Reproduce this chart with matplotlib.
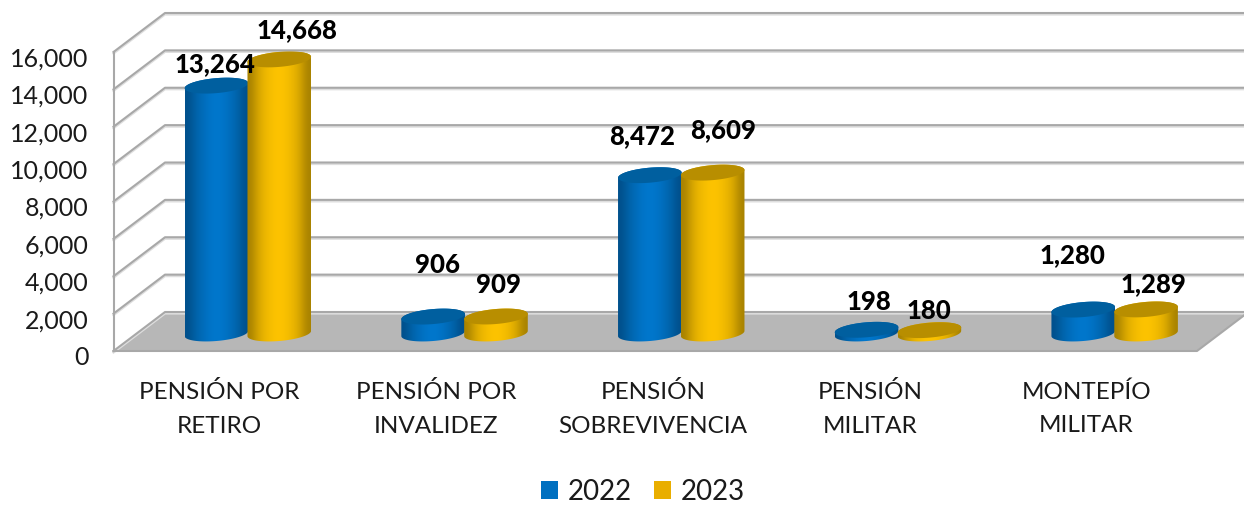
import numpy as np
import matplotlib
matplotlib.use("Agg")
import matplotlib.pyplot as plt
from matplotlib.patches import Polygon, Patch
from matplotlib.transforms import ScaledTranslation

categories = ["PENSIÓN POR\nRETIRO", "PENSIÓN POR\nINVALIDEZ", "PENSIÓN\nSOBREVIVENCIA", "PENSIÓN\nMILITAR", "MONTEPÍO\nMILITAR"]
values_2022 = [13264, 906, 8472, 198, 1280]
values_2023 = [14668, 909, 8609, 180, 1289]
yticks = [0, 2000, 4000, 6000, 8000, 10000, 12000, 14000, 16000]

plt.rcParams["font.family"] = ["Lato", "DejaVu Sans"]
W, H = 1244, 506
fig = plt.figure(figsize=(W / 100, H / 100), dpi=100, facecolor="white")
ax = fig.add_axes([113.5 / W, (H - 352) / H, 1083.5 / W, 299 / H])
ax.patch.set_visible(False)
for s in ax.spines.values():
    s.set_visible(False)

px_x = 1083.5 / 5
px_y = 299 / 16000
depth_x = 51.5 / px_x
depth_y = 39 / px_y
base = 17.5 / px_y
half_w = 31.8 / px_x
half_h = 7.5 / px_y
tilt = 2.6 / px_y
offset = 0.145
centre = 0.62

GRID = "#a8a8a8"
ax.add_patch(Polygon([[0, 0], [depth_x, depth_y], [5 + depth_x, depth_y], [5, 0]], closed=True,
                     facecolor="#b7b7b7", edgecolor="none", zorder=1, clip_on=False))
for v in yticks:
    ax.plot([0, depth_x, 5 + depth_x], [v, v + depth_y, v + depth_y], color="#dedede", lw=1.6, zorder=1.2,
            clip_on=False, transform=ax.transData + ScaledTranslation(0, -1.5 / 100, fig.dpi_scale_trans))
    ax.plot([0, depth_x, 5 + depth_x], [v, v + depth_y, v + depth_y], color=GRID, lw=1.5, zorder=1.5, clip_on=False)
ax.plot([0, 5, 5 + depth_x], [0, 0, depth_y], color=GRID, lw=1.5, zorder=1.6, clip_on=False)
ax.plot([0, 0], [0, 16000], color=GRID, lw=1.5, zorder=1.6, clip_on=False)


def ellipse_points(cx, cy, t):
    return np.column_stack([cx + half_w * np.cos(t), cy + half_h * np.sin(t) + tilt * np.cos(t)])


def cylinder(cx, value, stops, top_color, z):
    yb = base
    yt = base + value
    t_low = np.linspace(np.pi, 2 * np.pi, 60)
    t_up = np.linspace(0, np.pi, 60)
    body = Polygon(np.vstack([ellipse_points(cx, yb, t_low), ellipse_points(cx, yt, t_up)]), closed=True,
                   facecolor="none", edgecolor="none", zorder=z, clip_on=False)
    ax.add_patch(body)
    rgb = np.array([[matplotlib.colors.to_rgb(c) for c in stops]])
    im = ax.imshow(rgb, extent=[cx - half_w, cx + half_w, yb - 2 * half_h, yt + 2 * half_h], aspect="auto",
                   interpolation="bicubic", zorder=z)
    im.set_clip_path(body)
    t = np.linspace(0, 2 * np.pi, 120)
    ax.add_patch(Polygon(ellipse_points(cx, yt, t), closed=True, facecolor=top_color, edgecolor="none",
                         zorder=z + 0.1, clip_on=False))


blue_stops = ["#00508c", "#0062a8", "#006cba", "#0074c8", "#0078ce", "#0074c8", "#006cba", "#0062a8", "#00508c"]
gold_stops = ["#a88200", "#d4a400", "#ecb600", "#f8c000", "#ffc400", "#f8c000", "#ecb600", "#d4a400", "#a88200"]
label_offsets_22 = [(-1, 23), (4, 53), (-8, 40), (2, 29), (-11, 55)]
label_offsets_23 = [(18, 30), (3, 33), (10, 44), (0, 20), (7, 26)]

for i in range(5):
    cx1 = i + centre - offset
    cx2 = i + centre + offset
    cylinder(cx1, values_2022[i], blue_stops, "#005f9f", 3 + i)
    cylinder(cx2, values_2023[i], gold_stops, "#b88e00", 3.3 + i)
    for cx, val, off in ((cx1, values_2022[i], label_offsets_22[i]), (cx2, values_2023[i], label_offsets_23[i])):
        ax.annotate(f"{val:,}", xy=(cx, base + val), xytext=off, textcoords="offset pixels", ha="center",
                    va="center", fontsize=18.5, fontweight=900, color="black", zorder=20, annotation_clip=False)

ax.set_xlim(0, 5)
ax.set_ylim(0, 16000)
ax.set_xticks(np.arange(5) + 0.5 - 0.01)
ax.set_xticklabels(categories, fontsize=17.5, linespacing=1.74, color="#1a1a1a")
ax.set_yticks(yticks)
ax.set_yticklabels([f"{v:,}" for v in yticks], fontsize=18, color="#1a1a1a")
ax.tick_params(axis="both", length=0)
ax.tick_params(axis="x", pad=21)
ax.tick_params(axis="y", pad=18)
shift = ScaledTranslation(0, -4 / 100, fig.dpi_scale_trans)
for lab in ax.get_yticklabels():
    lab.set_transform(lab.get_transform() + shift)

handles = [Patch(facecolor="#0070c0", edgecolor="none", label="2022"),
           Patch(facecolor="#e9ae00", edgecolor="none", label="2023")]
fig.legend(handles=handles, loc="center", bbox_to_anchor=(643 / W, (H - 492.5) / H), ncol=2, frameon=False,
           fontsize=20, handlelength=0.62, handleheight=0.62, handletextpad=0.35, columnspacing=0.8,
           labelcolor="#1a1a1a")

fig.savefig("out.png", dpi=100)
